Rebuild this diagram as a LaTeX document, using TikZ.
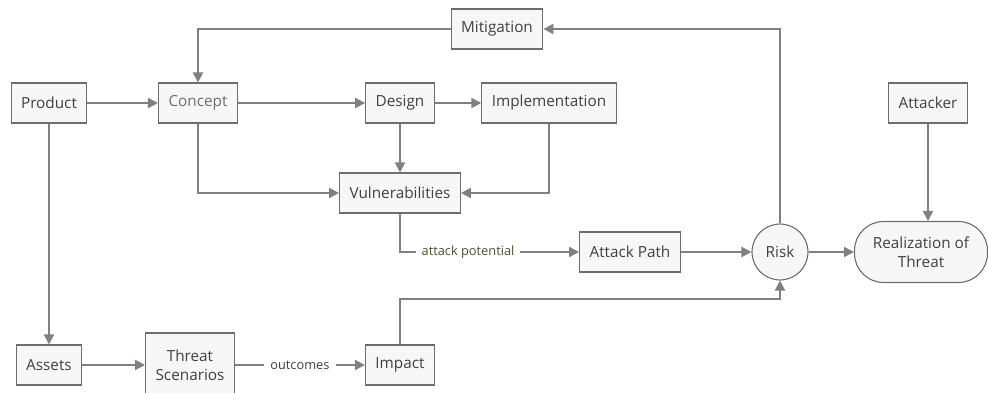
\documentclass[tikz,border=0pt]{standalone}
\usepackage{fontspec}
\setmainfont{Open Sans}
\usetikzlibrary{positioning}
\usetikzlibrary{arrows.meta}

\definecolor{linegray}{HTML}{808080}
\definecolor{boxgray}{HTML}{6E6E6E}
\definecolor{boxfill}{HTML}{F7F7F7}
\definecolor{textgray}{HTML}{404040}
\definecolor{olivetext}{HTML}{4F4F30}

\tikzset{
  box/.style={rectangle,draw=boxgray,fill=boxfill,line width=1.1pt,
    minimum height=40pt,inner xsep=10pt,text=textgray,
    font=\fontsize{15.3}{19}\selectfont,align=center},
  arr/.style={draw=linegray,line width=2pt,-{Triangle[length=10pt,width=10pt]}},
  lbl/.style={fill=white,inner xsep=6pt,inner ysep=1pt,font=\fontsize{12.8}{15}\selectfont}
}

\begin{document}
\begin{tikzpicture}[x=1pt,y=-1pt]
    \useasboundingbox (0,0) rectangle (988,393);

    \node[box] (product) at (49,103) {Product};
    \node[box,text=boxgray] (concept) at (198,103) {Concept};
    \node[box] (design) at (400,103) {Design};
    \node[box] (impl) at (549,103) {Implementation};
    \node[box] (mitig) at (497,29) {Mitigation};
    \node[box] (vuln) at (400,193) {Vulnerabilities};
    \node[box] (apath) at (630,252) {Attack Path};
    \node[circle,draw=boxgray,fill=boxfill,line width=1.1pt,minimum size=56pt,
      text=textgray,font=\fontsize{15.3}{19}\selectfont] (risk) at (780,252) {Risk};
    \node[box,rounded corners=29pt,minimum width=133pt,minimum height=61pt] (realiz) at (921,252) {Realization of\\Threat};
    \node[box] (attacker) at (928,103) {Attacker};
    \node[box] (assets) at (49,365) {Assets};
    \node[box,minimum height=64pt] (threat) at (190,365) {Threat\\Scenarios};
    \node[box] (impact) at (400,365) {Impact};

    \draw[arr] (product) -- (concept);
    \draw[arr] (concept) -- (design);
    \draw[arr] (design) -- (impl);
    \draw[arr] (design) -- (vuln);
    \draw[arr] (concept) |- (vuln);
    \draw[arr] (impl) |- (vuln);
    \draw[arr] (risk) |- (mitig);
    \draw[arr] (mitig) -| (concept);
    \draw[arr] (vuln) |- node[lbl,text=olivetext,pos=0.69] {attack potential} (apath);
    \draw[arr] (apath) -- (risk);
    \draw[arr] (risk) -- (realiz);
    \draw[arr] (attacker) -- (attacker |- realiz.north);
    \draw[arr] (product) -- (assets);
    \draw[arr] (assets) -- (threat);
    \draw[arr] (threat) -- node[lbl,text=textgray] {outcomes} (impact);
    \draw[arr] (impact.north) -- ++(0,-45) -| (risk.south);
  \end{tikzpicture}
\end{document}
